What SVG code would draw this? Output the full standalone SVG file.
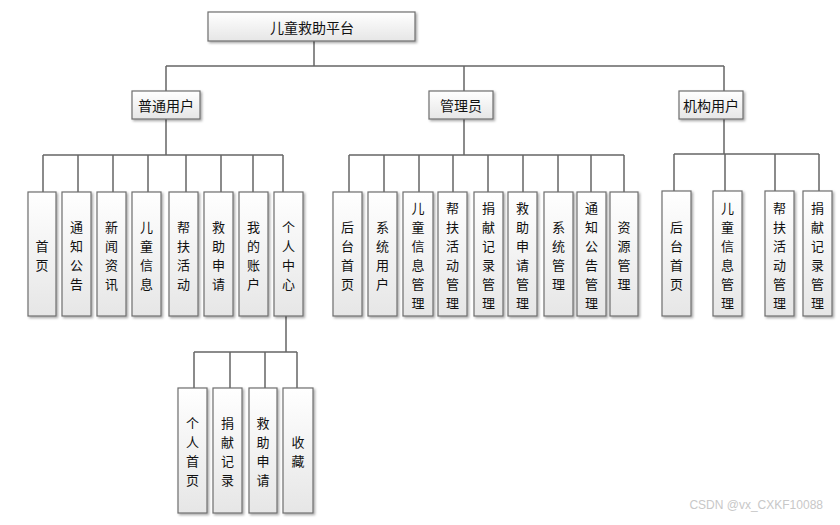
<svg xmlns="http://www.w3.org/2000/svg" width="840" height="525" viewBox="0 0 840 525">
<defs>
<linearGradient id="g" x1="0" y1="0" x2="0" y2="1">
<stop offset="0" stop-color="#ffffff"/>
<stop offset="1" stop-color="#e6e6e6"/>
</linearGradient>
<filter id="sh" x="-20%" y="-20%" width="150%" height="150%">
<feDropShadow dx="1.5" dy="1.5" stdDeviation="0.8" flood-color="#000" flood-opacity="0.35"/>
</filter>
</defs>
<style>
.b{fill:url(#g);stroke:#6e6e6e;stroke-width:1.2;filter:url(#sh)}
.t{font-family:"Noto Sans CJK SC","Microsoft YaHei",sans-serif;font-size:14px;fill:#111;text-anchor:middle;dominant-baseline:central}
.v{font-family:"Noto Sans CJK SC","Microsoft YaHei",sans-serif;font-size:13px;fill:#111;text-anchor:middle;dominant-baseline:central}
.c{stroke:#666;stroke-width:1.5;fill:none}
</style>
<rect width="840" height="525" fill="#fff"/>
<g id="connectors" class="c">
<path d="M314 41V66M166 66H724M166 66V91M464 66V91M724 66V91"/>
<path d="M166 119V155M43 155H283M43 155V192M78 155V192M113 155V192M148 155V192M186 155V192M221 155V192M253 155V192M283 155V192"/>
<path d="M286 316V352M194 352H297M194 352V388M230 352V388M265 352V388M297 352V388"/>
<path d="M464 119V155M349 155H624M349 155V192M384 155V192M419 155V192M453 155V192M488 155V192M523 155V192M558 155V192M591 155V192M624 155V192"/>
<path d="M724 119V154M674 154H819M674 154V191M725 154V191M775 154V191M819 154V191"/>
</g>
<g id="root"><rect class="b" x="208" y="12" width="207" height="29"/><text class="t" x="312" y="27">儿童救助平台</text></g>
<g id="user"><rect class="b" x="132" y="91" width="68" height="28"/><text class="t" x="166" y="105">普通用户</text></g>
<g id="admin"><rect class="b" x="429" y="91" width="64" height="28"/><text class="t" x="461" y="105">管理员</text></g>
<g id="org"><rect class="b" x="679" y="91" width="64" height="28"/><text class="t" x="711" y="105">机构用户</text></g>

<g id="u1"><rect class="b" x="28" y="192" width="28" height="124"/><text class="v"><tspan x="42" y="245">首</tspan><tspan x="42" y="264">页</tspan></text></g>
<g id="u2"><rect class="b" x="62" y="192" width="29" height="124"/><text class="v"><tspan x="76.5" y="226">通</tspan><tspan x="76.5" y="245">知</tspan><tspan x="76.5" y="264">公</tspan><tspan x="76.5" y="283">告</tspan></text></g>
<g id="u3"><rect class="b" x="97" y="192" width="29" height="124"/><text class="v"><tspan x="111.5" y="226">新</tspan><tspan x="111.5" y="245">闻</tspan><tspan x="111.5" y="264">资</tspan><tspan x="111.5" y="283">讯</tspan></text></g>
<g id="u4"><rect class="b" x="132" y="192" width="29" height="124"/><text class="v"><tspan x="146.5" y="226">儿</tspan><tspan x="146.5" y="245">童</tspan><tspan x="146.5" y="264">信</tspan><tspan x="146.5" y="283">息</tspan></text></g>
<g id="u5"><rect class="b" x="169" y="192" width="29" height="124"/><text class="v"><tspan x="183.5" y="226">帮</tspan><tspan x="183.5" y="245">扶</tspan><tspan x="183.5" y="264">活</tspan><tspan x="183.5" y="283">动</tspan></text></g>
<g id="u6"><rect class="b" x="204" y="192" width="29" height="124"/><text class="v"><tspan x="218.5" y="226">救</tspan><tspan x="218.5" y="245">助</tspan><tspan x="218.5" y="264">申</tspan><tspan x="218.5" y="283">请</tspan></text></g>
<g id="u7"><rect class="b" x="239" y="192" width="29" height="124"/><text class="v"><tspan x="253.5" y="226">我</tspan><tspan x="253.5" y="245">的</tspan><tspan x="253.5" y="264">账</tspan><tspan x="253.5" y="283">户</tspan></text></g>
<g id="u8"><rect class="b" x="274" y="192" width="29" height="124"/><text class="v"><tspan x="288.5" y="226">个</tspan><tspan x="288.5" y="245">人</tspan><tspan x="288.5" y="264">中</tspan><tspan x="288.5" y="283">心</tspan></text></g>

<g id="p1"><rect class="b" x="178" y="388" width="29" height="125"/><text class="v"><tspan x="192.5" y="422">个</tspan><tspan x="192.5" y="441">人</tspan><tspan x="192.5" y="460">首</tspan><tspan x="192.5" y="479">页</tspan></text></g>
<g id="p2"><rect class="b" x="213" y="388" width="29" height="125"/><text class="v"><tspan x="227.5" y="422">捐</tspan><tspan x="227.5" y="441">献</tspan><tspan x="227.5" y="460">记</tspan><tspan x="227.5" y="479">录</tspan></text></g>
<g id="p3"><rect class="b" x="249" y="388" width="28" height="125"/><text class="v"><tspan x="263" y="422">救</tspan><tspan x="263" y="441">助</tspan><tspan x="263" y="460">申</tspan><tspan x="263" y="479">请</tspan></text></g>
<g id="p4"><rect class="b" x="283" y="388" width="30" height="125"/><text class="v"><tspan x="298" y="441">收</tspan><tspan x="298" y="460">藏</tspan></text></g>

<g id="a1"><rect class="b" x="333" y="192" width="29" height="124"/><text class="v"><tspan x="347.5" y="226">后</tspan><tspan x="347.5" y="245">台</tspan><tspan x="347.5" y="264">首</tspan><tspan x="347.5" y="283">页</tspan></text></g>
<g id="a2"><rect class="b" x="368" y="192" width="29" height="124"/><text class="v"><tspan x="382.5" y="226">系</tspan><tspan x="382.5" y="245">统</tspan><tspan x="382.5" y="264">用</tspan><tspan x="382.5" y="283">户</tspan></text></g>
<g id="a3"><rect class="b" x="403" y="192" width="30" height="124"/><text class="v"><tspan x="418" y="207">儿</tspan><tspan x="418" y="226">童</tspan><tspan x="418" y="245">信</tspan><tspan x="418" y="264">息</tspan><tspan x="418" y="283">管</tspan><tspan x="418" y="302">理</tspan></text></g>
<g id="a4"><rect class="b" x="438" y="192" width="29" height="124"/><text class="v"><tspan x="452.5" y="207">帮</tspan><tspan x="452.5" y="226">扶</tspan><tspan x="452.5" y="245">活</tspan><tspan x="452.5" y="264">动</tspan><tspan x="452.5" y="283">管</tspan><tspan x="452.5" y="302">理</tspan></text></g>
<g id="a5"><rect class="b" x="474" y="192" width="29" height="124"/><text class="v"><tspan x="488.5" y="207">捐</tspan><tspan x="488.5" y="226">献</tspan><tspan x="488.5" y="245">记</tspan><tspan x="488.5" y="264">录</tspan><tspan x="488.5" y="283">管</tspan><tspan x="488.5" y="302">理</tspan></text></g>
<g id="a6"><rect class="b" x="508" y="192" width="29" height="124"/><text class="v"><tspan x="522.5" y="207">救</tspan><tspan x="522.5" y="226">助</tspan><tspan x="522.5" y="245">申</tspan><tspan x="522.5" y="264">请</tspan><tspan x="522.5" y="283">管</tspan><tspan x="522.5" y="302">理</tspan></text></g>
<g id="a7"><rect class="b" x="544" y="192" width="29" height="124"/><text class="v"><tspan x="558.5" y="226">系</tspan><tspan x="558.5" y="245">统</tspan><tspan x="558.5" y="264">管</tspan><tspan x="558.5" y="283">理</tspan></text></g>
<g id="a8"><rect class="b" x="577" y="192" width="29" height="124"/><text class="v"><tspan x="591.5" y="207">通</tspan><tspan x="591.5" y="226">知</tspan><tspan x="591.5" y="245">公</tspan><tspan x="591.5" y="264">告</tspan><tspan x="591.5" y="283">管</tspan><tspan x="591.5" y="302">理</tspan></text></g>
<g id="a9"><rect class="b" x="610" y="192" width="28" height="124"/><text class="v"><tspan x="624" y="226">资</tspan><tspan x="624" y="245">源</tspan><tspan x="624" y="264">管</tspan><tspan x="624" y="283">理</tspan></text></g>

<g id="o1"><rect class="b" x="662" y="191" width="29" height="125"/><text class="v"><tspan x="676.5" y="226">后</tspan><tspan x="676.5" y="245">台</tspan><tspan x="676.5" y="264">首</tspan><tspan x="676.5" y="283">页</tspan></text></g>
<g id="o2"><rect class="b" x="713" y="191" width="29" height="125"/><text class="v"><tspan x="727.5" y="207">儿</tspan><tspan x="727.5" y="226">童</tspan><tspan x="727.5" y="245">信</tspan><tspan x="727.5" y="264">息</tspan><tspan x="727.5" y="283">管</tspan><tspan x="727.5" y="302">理</tspan></text></g>
<g id="o3"><rect class="b" x="765" y="191" width="29" height="125"/><text class="v"><tspan x="779.5" y="207">帮</tspan><tspan x="779.5" y="226">扶</tspan><tspan x="779.5" y="245">活</tspan><tspan x="779.5" y="264">动</tspan><tspan x="779.5" y="283">管</tspan><tspan x="779.5" y="302">理</tspan></text></g>
<g id="o4"><rect class="b" x="803" y="191" width="29" height="125"/><text class="v"><tspan x="817.5" y="207">捐</tspan><tspan x="817.5" y="226">献</tspan><tspan x="817.5" y="245">记</tspan><tspan x="817.5" y="264">录</tspan><tspan x="817.5" y="283">管</tspan><tspan x="817.5" y="302">理</tspan></text></g>

<text x="823" y="509" font-family="Liberation Sans, sans-serif" font-size="12" fill="#c8c8c8" text-anchor="end">CSDN @vx_CXKF10088</text>
</svg>
